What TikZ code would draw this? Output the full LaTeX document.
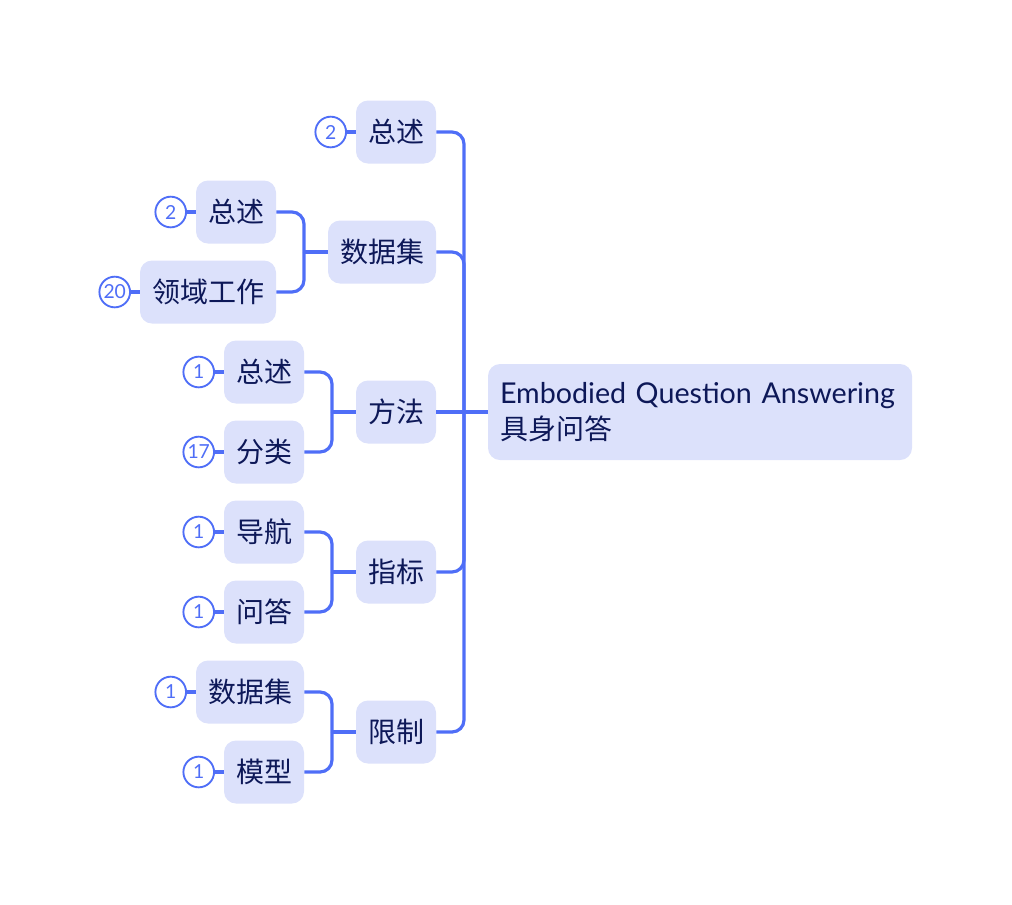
\documentclass[tikz,border=0pt]{standalone}
\usepackage{fontspec}
\setmainfont{Lato}
\newfontfamily\cjk{Noto Sans CJK SC}
\definecolor{lineblue}{HTML}{4F6EF7}
\definecolor{nodefill}{HTML}{DCE1FB}
\definecolor{navy}{HTML}{0D1858}
\begin{document}
\begin{tikzpicture}[x=0.75pt,y=-0.75pt,
  topic/.style={rectangle, rounded corners=9pt, fill=nodefill, text=navy,
    minimum height=47.25pt, inner sep=0pt, font=\cjk\fontsize{21}{24}\selectfont},
  rootnode/.style={rectangle, rounded corners=9pt, fill=nodefill, text=navy,
    minimum height=72pt, text width=300pt, inner xsep=9pt, inner ysep=0pt, align=left,
    font=\fontsize{21.5}{27}\selectfont},
  badge/.style={circle, draw=lineblue, line width=1.4pt, fill=white, text=lineblue,
    minimum size=23pt, inner sep=0pt, font=\fontsize{14.5}{15}\selectfont},
  conn/.style={draw=lineblue, line width=2.4pt, rounded corners=9pt},
  bconn/.style={draw=lineblue, line width=2.4pt}]
\useasboundingbox (0,0) rectangle (1012,904);

% root
\node[rootnode] (root) at (700,412) {Embodied Question Answering\\{\cjk\fontsize{21}{27}\selectfont 具身问答}};

% level 1
\node[topic, minimum width=60pt]  (a1) at (396,132) {总述};
\node[topic, minimum width=81pt]  (a2) at (382,252) {数据集};
\node[topic, minimum width=60pt]  (a3) at (396,412) {方法};
\node[topic, minimum width=60pt]  (a4) at (396,572) {指标};
\node[topic, minimum width=60pt]  (a5) at (396,732) {限制};

% level 2
\node[topic, minimum width=60pt]  (b1) at (236,212) {总述};
\node[topic, minimum width=102pt] (b2) at (208,292) {领域工作};
\node[topic, minimum width=60pt]  (c1) at (264,372) {总述};
\node[topic, minimum width=60pt]  (c2) at (264,452) {分类};
\node[topic, minimum width=60pt]  (d1) at (264,532) {导航};
\node[topic, minimum width=60pt]  (d2) at (264,612) {问答};
\node[topic, minimum width=81pt]  (e1) at (250,692) {数据集};
\node[topic, minimum width=60pt]  (e2) at (264,772) {模型};

% junction coordinates
\coordinate (t)  at (464,412);
\coordinate (tb) at (304,252);
\coordinate (tc) at (332,412);
\coordinate (td) at (332,572);
\coordinate (te) at (332,732);

% main connectors
\draw[conn] (a1.east) -| (t);
\draw[conn] (a2.east) -| (t);
\draw[conn] (a4.east) -| (t);
\draw[conn] (a5.east) -| (t);
\draw[bconn] (a3.east) -- (root.west);

% sub connectors
\draw[conn] (b1.east) -| (tb);
\draw[conn] (b2.east) -| (tb);
\draw[bconn] (tb) -- (a2.west);
\draw[conn] (c1.east) -| (tc);
\draw[conn] (c2.east) -| (tc);
\draw[bconn] (tc) -- (a3.west);
\draw[conn] (d1.east) -| (td);
\draw[conn] (d2.east) -| (td);
\draw[bconn] (td) -- (a4.west);
\draw[conn] (e1.east) -| (te);
\draw[conn] (e2.east) -| (te);
\draw[bconn] (te) -- (a5.west);

% badges
\foreach \n/\v in {a1/2, b1/2, b2/20, c1/1, c2/17, d1/1, d2/1, e1/1, e2/1} {
  \node[badge] (badge-\n) at ([xshift=-18.75pt]\n.west) {\v};
  \draw[bconn] (badge-\n.east) -- (\n.west);
}
\end{tikzpicture}
\end{document}
